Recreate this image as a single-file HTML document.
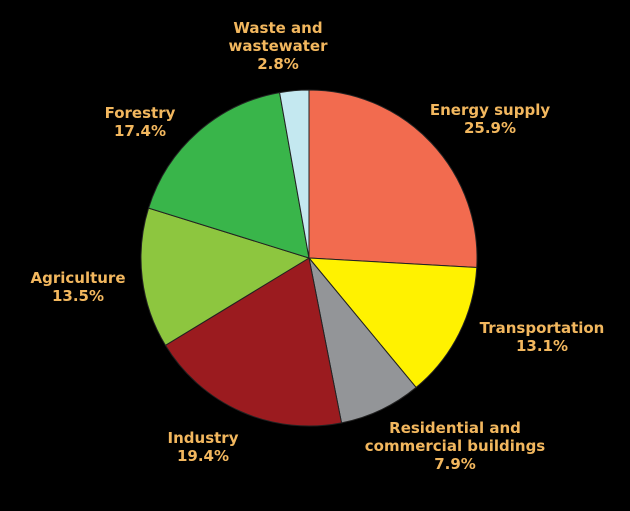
<!DOCTYPE html>
<html><head><meta charset="utf-8"><style>
html,body{margin:0;padding:0;background:#000;}
svg{display:block}
text{font-family:"DejaVu Sans","Liberation Sans",sans-serif;font-weight:bold;font-size:15px;fill:#f2b75e;text-anchor:middle}
</style></head><body>
<svg id="chart" width="630" height="511" viewBox="0 0 630 511">
<rect width="630" height="511" fill="#000"/>
<g id="slices"></g>
<g id="labels"></g>
</svg>
<script>
const categories = ["Energy supply","Transportation","Residential and commercial buildings","Industry","Agriculture","Forestry","Waste and wastewater"];
const values = [25.9,13.1,7.9,19.4,13.5,17.4,2.8];
const valueLabels = ["25.9%","13.1%","7.9%","19.4%","13.5%","17.4%","2.8%"];
const colors = ["#f26b4f","#fff200","#939598","#9b1b1f","#8dc63f","#39b54a","#c4e8f0"];
const labelLines = [["Energy supply"],["Transportation"],["Residential and","commercial buildings"],["Industry"],["Agriculture"],["Forestry"],["Waste and","wastewater"]];
const labelPos = [[490,115],[542,333],[455,433],[203,443],[78,283],[140,118],[278,33]];
const cx=309, cy=258, r=168;
const ns="http://www.w3.org/2000/svg";
const total=values.reduce((a,b)=>a+b,0);
const gS=document.getElementById('slices'), gL=document.getElementById('labels');
let a0=0;
function pt(a){return [cx+r*Math.sin(a), cy-r*Math.cos(a)];}
values.forEach((v,i)=>{
  const a1=a0+v/total*2*Math.PI;
  const [x0,y0]=pt(a0),[x1,y1]=pt(a1);
  const p=document.createElementNS(ns,'path');
  p.setAttribute('d',`M${cx},${cy}L${x0},${y0}A${r},${r} 0 ${a1-a0>Math.PI?1:0} 1 ${x1},${y1}Z`);
  p.setAttribute('fill',colors[i]);
  p.setAttribute('stroke','#222');
  p.setAttribute('stroke-width','1');
  
  
  gS.appendChild(p);
  a0=a1;
  const t=document.createElementNS(ns,'text');
  
  
  const lines=labelLines[i].concat([valueLabels[i]]);
  lines.forEach((s,k)=>{
    const ts=document.createElementNS(ns,'tspan');
    ts.setAttribute('x',labelPos[i][0]);
    ts.setAttribute('y',labelPos[i][1]+k*18);
    ts.textContent=s;
    t.appendChild(ts);
  });
  gL.appendChild(t);
});
</script>
</body></html>
